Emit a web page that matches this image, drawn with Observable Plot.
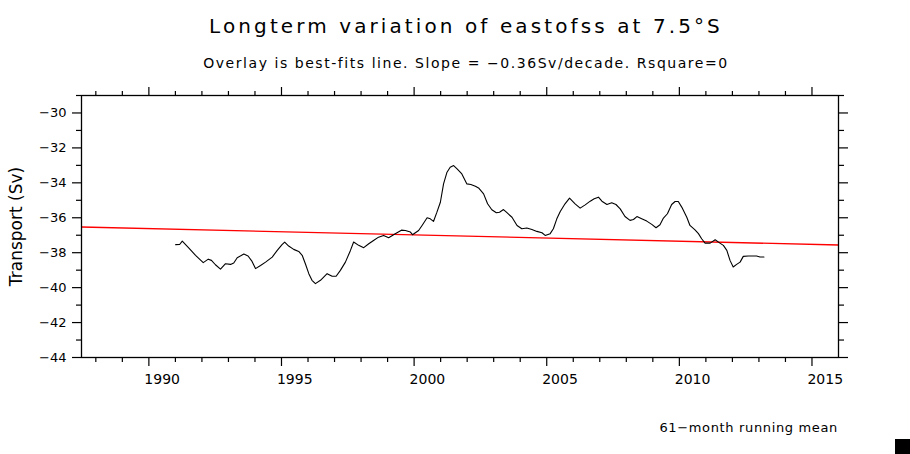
<!DOCTYPE html>
<html><head><meta charset="utf-8">
<script src="https://cdn.jsdelivr.net/npm/d3@7"></script>
<script src="https://cdn.jsdelivr.net/npm/@observablehq/plot@0.6"></script>
<style>
body{margin:0;background:#fff;}
#wrap{position:relative;width:910px;height:454px;font-family:"DejaVu Sans",sans-serif;overflow:hidden;}
.t{position:absolute;white-space:nowrap;color:#000;line-height:1;}
#chart{position:absolute;left:0;top:0;}
</style></head><body>
<div id="wrap">
<div id="chart"></div>
<div class="t" style="left:0;width:932px;text-align:center;top:16px;font-size:20px;letter-spacing:3.1px;">Longterm variation of eastofss at 7.5°S</div>
<div class="t" style="left:0;width:932px;text-align:center;top:56px;font-size:14px;letter-spacing:1.55px;">Overlay is best-fits line. Slope = −0.36Sv/decade. Rsquare=0</div>
<div class="t" style="right:72px;top:421px;font-size:13px;letter-spacing:0.65px;">61−month running mean</div>
<div style="position:absolute;left:895px;top:439px;width:15px;height:15px;background:#000;"></div>
</div>
<script>
// 61-month running mean of transport (Sv), decimal years
const years = [1991.01,1991.16,1991.26,1991.51,1991.76,1992.05,1992.24,1992.36,1992.51,1992.70,1992.89,1993.08,1993.20,1993.33,1993.58,1993.74,1993.89,1994.02,1994.21,1994.40,1994.65,1994.84,1995.02,1995.12,1995.27,1995.46,1995.65,1995.78,1995.90,1996.03,1996.15,1996.28,1996.47,1996.72,1996.91,1997.06,1997.22,1997.41,1997.60,1997.72,1997.91,1998.10,1998.29,1998.47,1998.66,1998.85,1999.04,1999.29,1999.52,1999.67,1999.86,1999.94,2000.17,2000.30,2000.49,2000.61,2000.73,2000.86,2000.99,2001.11,2001.24,2001.36,2001.49,2001.62,2001.80,2001.99,2002.14,2002.31,2002.43,2002.62,2002.77,2002.93,2003.10,2003.22,2003.37,2003.50,2003.69,2003.88,2004.06,2004.25,2004.44,2004.63,2004.82,2004.94,2005.13,2005.25,2005.38,2005.51,2005.69,2005.86,2006.07,2006.26,2006.45,2006.64,2006.79,2006.95,2007.08,2007.27,2007.45,2007.61,2007.77,2007.95,2008.14,2008.27,2008.40,2008.58,2008.77,2008.96,2009.12,2009.27,2009.40,2009.55,2009.71,2009.84,2009.96,2010.09,2010.28,2010.40,2010.59,2010.72,2010.84,2010.97,2011.16,2011.35,2011.53,2011.66,2011.79,2011.91,2012.03,2012.16,2012.29,2012.41,2012.60,2012.79,2012.91,2013.04,2013.19];
const transport = [-37.54,-37.53,-37.34,-37.74,-38.15,-38.57,-38.37,-38.44,-38.69,-38.94,-38.63,-38.67,-38.59,-38.29,-38.08,-38.19,-38.50,-38.91,-38.73,-38.54,-38.25,-37.87,-37.54,-37.39,-37.62,-37.81,-37.93,-38.15,-38.63,-39.20,-39.58,-39.77,-39.58,-39.20,-39.35,-39.35,-39.01,-38.54,-37.87,-37.39,-37.58,-37.71,-37.49,-37.30,-37.11,-37.01,-37.14,-36.91,-36.71,-36.73,-36.82,-36.97,-36.73,-36.44,-36.00,-36.06,-36.21,-35.68,-35.11,-34.06,-33.39,-33.11,-33.01,-33.20,-33.49,-34.06,-34.10,-34.19,-34.29,-34.63,-35.20,-35.54,-35.71,-35.68,-35.53,-35.71,-35.97,-36.44,-36.63,-36.59,-36.67,-36.78,-36.86,-37.01,-36.91,-36.63,-36.06,-35.64,-35.20,-34.88,-35.20,-35.45,-35.26,-35.05,-34.91,-34.82,-35.05,-35.24,-35.14,-35.24,-35.49,-35.93,-36.15,-36.10,-35.93,-36.06,-36.19,-36.38,-36.57,-36.40,-36.02,-35.77,-35.24,-35.07,-35.07,-35.39,-35.97,-36.44,-36.69,-36.91,-37.20,-37.45,-37.45,-37.26,-37.45,-37.58,-37.87,-38.44,-38.82,-38.67,-38.54,-38.21,-38.19,-38.19,-38.19,-38.25,-38.25];
// best-fit line endpoints
const fitYears = [1987.46, 2016.0];
const fitValues = [-36.53, -37.56];
// axes
const xMajorTicks = [1990, 1995, 2000, 2005, 2010, 2015];
const xTickLabels = ["1990", "1995", "2000", "2005", "2010", "2015"];
const xMinorTicks = [1988, 1989, 1991, 1992, 1993, 1994, 1996, 1997, 1998, 1999, 2001, 2002, 2003, 2004, 2006, 2007, 2008, 2009, 2011, 2012, 2013, 2014];
const yMajorTicks = [-44, -42, -40, -38, -36, -34, -32, -30];
const yTickLabels = ["−44", "−42", "−40", "−38", "−36", "−34", "−32", "−30"];
const yMinorTicks = [-43, -41, -39, -37, -35, -33, -31, -29];

const series = years.map((x, i) => ({x, y: transport[i]}));
const fit = fitYears.map((x, i) => ({x, y: fitValues[i]}));
const xLab = xMajorTicks.map((x, i) => ({x: x + 0.5, t: xTickLabels[i]}));
const blank = () => "";

const plot = Plot.plot({
  width: 910, height: 454,
  marginLeft: 81, marginRight: 72, marginTop: 95, marginBottom: 97,
  style: {fontFamily: "DejaVu Sans, sans-serif", fontSize: "13px", color: "black", background: "white"},
  x: {type: "linear", domain: [1987.46, 2016.0]},
  y: {domain: [-44, -29]},
  marks: [
    Plot.line(fit, {x: "x", y: "y", stroke: "#ff0000", strokeWidth: 1.3}),
    Plot.line(series, {x: "x", y: "y", stroke: "black", strokeWidth: 1.1, curve: "linear"}),
    Plot.frame({stroke: "black", strokeWidth: 1.3}),
    Plot.axisY({anchor: "left", ticks: yMajorTicks, tickSize: 9, tickPadding: 6, tickFormat: d => yTickLabels[yMajorTicks.indexOf(d)], label: null, fontSize: 13, strokeWidth: 1.2}),
    Plot.axisY({anchor: "left", ticks: yMinorTicks, tickSize: 5, tickFormat: blank, label: null, strokeWidth: 1.2}),
    Plot.axisY({anchor: "right", ticks: yMajorTicks, tickSize: 9, tickFormat: blank, label: null, strokeWidth: 1.2}),
    Plot.axisY({anchor: "right", ticks: yMinorTicks, tickSize: 5, tickFormat: blank, label: null, strokeWidth: 1.2}),
    Plot.axisX({anchor: "bottom", ticks: xMajorTicks, tickSize: 9, tickFormat: blank, label: null, strokeWidth: 1.2}),
    Plot.axisX({anchor: "bottom", ticks: xMinorTicks, tickSize: 5, tickFormat: blank, label: null, strokeWidth: 1.2}),
    Plot.axisX({anchor: "top", ticks: xMajorTicks, tickSize: 9, tickFormat: blank, label: null, strokeWidth: 1.2}),
    Plot.axisX({anchor: "top", ticks: xMinorTicks, tickSize: 5, tickFormat: blank, label: null, strokeWidth: 1.2}),
    Plot.text(xLab, {x: "x", text: "t", frameAnchor: "bottom", dy: 22, lineAnchor: "middle", fontSize: 14}),
    Plot.text(["Transport (Sv)"], {frameAnchor: "left", dx: -65, rotate: -90, text: d => d, fontSize: 17, textAnchor: "middle", lineAnchor: "middle", letterSpacing: 1.5})
  ]
});
document.getElementById("chart").appendChild(plot);
</script>
</body></html>
